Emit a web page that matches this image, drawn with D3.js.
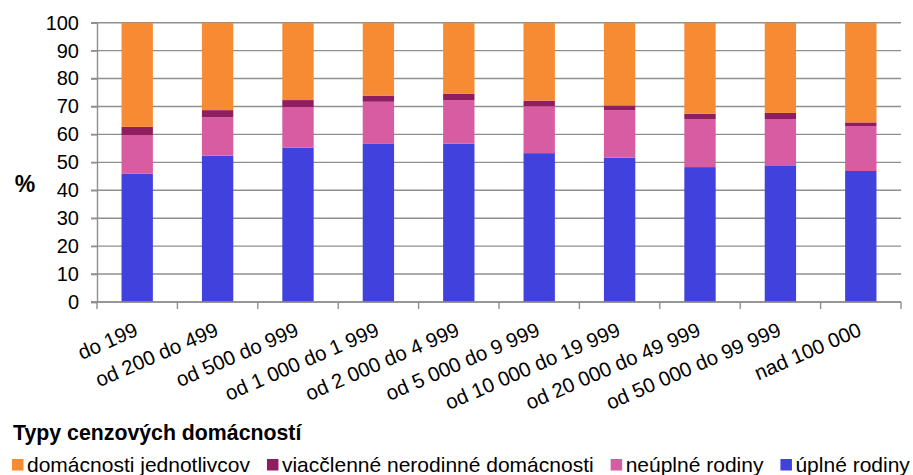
<!DOCTYPE html>
<html><head><meta charset="utf-8">
<script src="https://cdn.jsdelivr.net/npm/d3@7"></script>
<style>
html,body{margin:0;padding:0;background:#fff;}
svg text{font-family:"Liberation Sans",Arial,sans-serif;fill:#000;}
</style></head>
<body><svg id="c" width="913" height="475"></svg>
<script>
const categories = ["do 199","od 200 do 499","od 500 do 999","od 1 000 do 1 999","od 2 000 do 4 999","od 5 000 do 9 999","od 10 000 do 19 999","od 20 000 do 49 999","od 50 000 do 99 999","nad 100 000"];
const uplneRodiny = [45.9,52.4,55.2,56.6,56.7,53.3,51.7,48.3,48.7,46.9];
const neuplneRodiny = [13.9,13.8,14.6,15.1,15.6,16.8,17.0,17.2,16.8,16.1];
const viacclenne = [2.9,2.5,2.5,2.2,2.2,2.0,1.7,1.9,2.2,1.3];
const jednotlivci = [37.3,31.3,27.7,26.1,25.5,27.9,29.6,32.6,32.3,35.7];
const seriesNames = ["úplné rodiny","neúplné rodiny","viacčlenné nerodinné domácnosti","domácnosti jednotlivcov"];
const seriesColors = ["#4141DE","#D85CA1","#8E1E5F","#F68B33"];
const yTicks = [0,10,20,30,40,50,60,70,80,90,100];
const legendTitle = "Typy cenzových domácností";
const yTitle = "%";

(function(){
const svg = d3.select("#c");
const pLeft = 97, pRight = 901, pTop = 22.7, pBottom = 302;
const x = d3.scaleBand().domain(categories).range([pLeft,pRight]).paddingInner(0.61).paddingOuter(0.305);
const y = d3.scaleLinear().domain([0,100]).range([pBottom,pTop]);

const rows = categories.map((c,i)=>({cat:c, s0:uplneRodiny[i], s1:neuplneRodiny[i], s2:viacclenne[i], s3:jednotlivci[i]}));
const stack = d3.stack().keys(["s0","s1","s2","s3"])(rows);

// gridlines
svg.append("g").selectAll("line").data(yTicks).join("line")
  .attr("x1",pLeft-6).attr("x2",pRight).attr("y1",d=>y(d)).attr("y2",d=>y(d))
  .attr("stroke","#8f8f8f").attr("stroke-width",1.4);

// y axis
const ya = svg.append("g").attr("transform",`translate(${pLeft},0)`)
  .call(d3.axisLeft(y).tickValues(yTicks).tickSize(6).tickPadding(12));
ya.select(".domain").attr("stroke","#8f8f8f").attr("stroke-width",1.4);
ya.selectAll(".tick line").attr("stroke","#8f8f8f").attr("stroke-width",1.4);
ya.selectAll(".tick text").attr("font-size","20px").attr("font-family","Liberation Sans, Arial, sans-serif").attr("fill","#000");

// bars
svg.append("g").selectAll("g").data(stack).join("g")
  .attr("fill",(d,i)=>seriesColors[i])
  .selectAll("rect").data(d=>d).join("rect")
  .attr("x",d=>x(d.data.cat)).attr("width",x.bandwidth())
  .attr("y",d=>y(d[1])).attr("height",d=>y(d[0])-y(d[1]));

// x axis
const boundaries = d3.range(categories.length+1).map(i=>pLeft + i*x.step());
svg.append("line").attr("x1",pLeft-6).attr("x2",pRight).attr("y1",pBottom).attr("y2",pBottom)
  .attr("stroke","#8f8f8f").attr("stroke-width",1.4);
svg.append("g").selectAll("line").data(boundaries).join("line")
  .attr("x1",d=>d).attr("x2",d=>d).attr("y1",pBottom).attr("y2",pBottom+7)
  .attr("stroke","#8f8f8f").attr("stroke-width",1.4);

svg.append("g").selectAll("text").data(categories).join("text")
  .attr("transform",d=>`translate(${x(d)+x.bandwidth()/2+2},335) rotate(-23.5)`)
  .attr("text-anchor","end").attr("font-size","20.5px").text(d=>d);

// y title
svg.append("text").attr("x",25).attr("y",192).attr("text-anchor","middle")
  .attr("font-size","23px").attr("font-weight","bold").text(yTitle);

// legend
svg.append("text").attr("x",13).attr("y",440).attr("font-size","21.3px").attr("font-weight","bold").text(legendTitle);
const legendOrder = [3,2,1,0];
let lx = 12;
legendOrder.forEach(i=>{
  svg.append("rect").attr("x",lx).attr("y",459).attr("width",11.5).attr("height",11.5).attr("fill",seriesColors[i]);
  const t = svg.append("text").attr("x",lx+15).attr("y",472).attr("font-size","21px").text(seriesNames[i]);
  lx += 15 + t.node().getComputedTextLength() + 17;
});
})();
</script></body></html>
